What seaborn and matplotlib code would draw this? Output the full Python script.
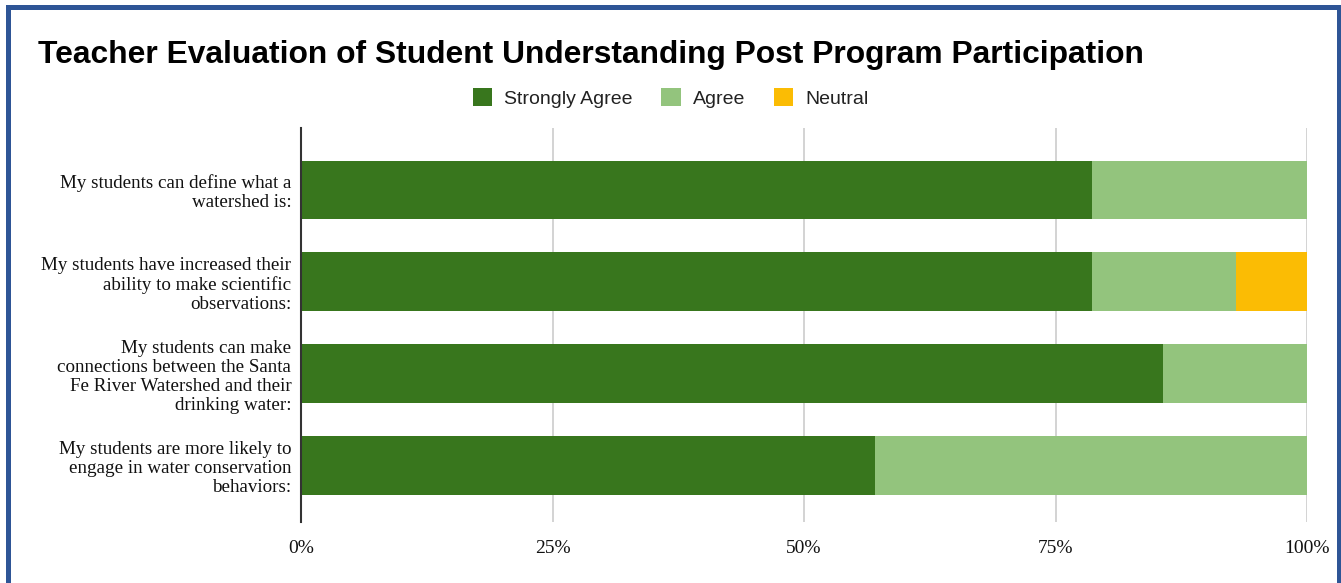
import pandas as pd
import matplotlib.pyplot as plt
import seaborn as sns
from matplotlib.patches import Patch
from matplotlib.lines import Line2D

sns.set_theme(style="white")
plt.rcParams['font.family'] = ['Liberation Sans', 'DejaVu Sans']

# Survey statements (wrapped like the original labels)
statements = [
    "My students can define what a\nwatershed is:",
    "My students have increased their\nability to make scientific\nobservations:",
    "My students can make\nconnections between the Santa\nFe River Watershed and their\ndrinking water:",
    "My students are more likely to\nengage in water conservation\nbehaviors:",
]
# share of responses (%)
strongly_agree = [78.6, 78.6, 85.7, 57.1]
agree = [21.4, 14.3, 14.3, 42.9]
neutral = [0.0, 7.1, 0.0, 0.0]

series = ["Strongly Agree", "Agree", "Neutral"]
colors = {"Strongly Agree": "#38761d", "Agree": "#93c47d", "Neutral": "#fbbc04"}
xticks = [0, 25, 50, 75, 100]
xtick_labels = ["0%", "25%", "50%", "75%", "100%"]

df = pd.DataFrame({"statement": statements, "Strongly Agree": strongly_agree,
                   "Agree": agree, "Neutral": neutral})
# cumulative totals so bars can be layered back-to-front
df["cum_sa"] = df["Strongly Agree"]
df["cum_a"] = df["cum_sa"] + df["Agree"]
df["cum_n"] = df["cum_a"] + df["Neutral"]

fig = plt.figure(figsize=(13.41, 5.83), dpi=100)
ax = fig.add_axes([0.2245, 0.1046, 0.7502, 0.6758])

for col, name in [("cum_n", "Neutral"), ("cum_a", "Agree"), ("cum_sa", "Strongly Agree")]:
    sns.barplot(data=df, x=col, y="statement", orient="h", color=colors[name],
                width=0.64, linewidth=0, saturation=1, ax=ax)

ax.set_xlim(0, 100)
ax.set_ylim(3.615, -0.675)
ax.set_xlabel("")
ax.set_ylabel("")
ax.set_xticks(xticks)
ax.set_xticklabels(xtick_labels, family="Liberation Serif", fontsize=14, color="#111111")
ax.set_yticklabels(statements, family="Liberation Serif", fontsize=13.7, color="#111111",
                   linespacing=1.15)
ax.tick_params(axis="both", length=0)
ax.tick_params(axis="y", pad=7)
ax.tick_params(axis="x", pad=13)

ax.grid(axis="x", color="#cccccc", linewidth=1.2)
ax.set_axisbelow(True)
for s in ["top", "right", "bottom"]:
    ax.spines[s].set_visible(False)
ax.spines["left"].set_color("#333333")
ax.spines["left"].set_linewidth(1.5)
ax.spines["left"].set_zorder(5)

fig.text(38 / 1341, 1 - 55 / 583,
         "Teacher Evaluation of Student Understanding Post Program Participation",
         fontsize=22.9, fontweight="bold", ha="left", va="center", color="black")

handles = [Patch(facecolor=colors[s], edgecolor="none", label=s) for s in series]
fig.legend(handles=handles, loc="center", bbox_to_anchor=(0.5, 1 - 98 / 583), ncol=3,
           frameon=False, fontsize=14, handlelength=1.0, handleheight=1.0,
           handletextpad=0.6, columnspacing=1.5, labelcolor="#222222")

# blue page frame (top, left and right edges)
x0, x1, yt = 7.5 / 1341, 1338.5 / 1341, 1 - 6.5 / 583
fig.add_artist(Line2D([x0, x0, x1, x1], [0, yt, yt, 0], transform=fig.transFigure,
                      color="#2e5596", linewidth=3.6, solid_joinstyle="miter"))

plt.savefig("out.png", dpi=100)
